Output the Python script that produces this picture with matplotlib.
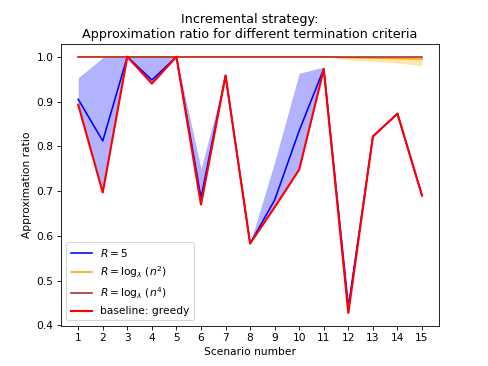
import matplotlib
matplotlib.use("Agg")
import matplotlib.pyplot as plt
import numpy as np

scenarios = list(range(1, 16))

# baseline: greedy
greedy = [0.893, 0.697, 1.0, 0.940, 1.0, 0.670, 0.958, 0.583, 0.664, 0.748,
          0.972, 0.428, 0.822, 0.873, 0.690]

# R = 5 (mean, min, max)
r5_mean = [0.905, 0.812, 1.0, 0.948, 1.0, 0.685, 0.958, 0.583, 0.680, 0.835,
           0.973, 0.440, 0.822, 0.873, 0.690]
r5_low = [0.893, 0.697, 1.0, 0.940, 1.0, 0.670, 0.958, 0.583, 0.664, 0.748,
          0.972, 0.428, 0.822, 0.873, 0.690]
r5_high = [0.953, 0.998, 1.0, 1.0, 1.0, 0.750, 0.958, 0.583, 0.765, 0.963,
           0.977, 0.460, 0.822, 0.873, 0.690]

# R = log(n^2)
r2_mean = [1.0] * 11 + [0.998, 0.997, 0.996, 0.995]
r2_low = [1.0] * 11 + [0.993, 0.990, 0.986, 0.980]
r2_high = [1.0] * 15

# R = log(n^4)
r4_mean = [1.0] * 15

plt.figure(figsize=(6.4, 4.8), dpi=76.25)
plt.fill_between(scenarios, r5_low, r5_high, color='blue', alpha=0.3, linewidth=0)
plt.plot(scenarios, r5_mean, color='blue', label=r'$R=5$')
plt.fill_between(scenarios, r2_low, r2_high, color='orange', alpha=0.3, linewidth=0)
plt.plot(scenarios, r2_mean, color='orange', label=r'$R=\log_\lambda\,(n^2)$')
plt.plot(scenarios, r4_mean, color='brown', label=r'$R=\log_\lambda\,(n^4)$')
plt.plot(scenarios, greedy, color='red', linewidth=2, label='baseline: greedy')

plt.xticks(scenarios)
plt.xlabel('Scenario number')
plt.ylabel('Approximation ratio')
plt.title('Incremental strategy:\nApproximation ratio for different termination criteria')
plt.legend(loc='lower left')

plt.savefig('out.png', dpi=76.25)
